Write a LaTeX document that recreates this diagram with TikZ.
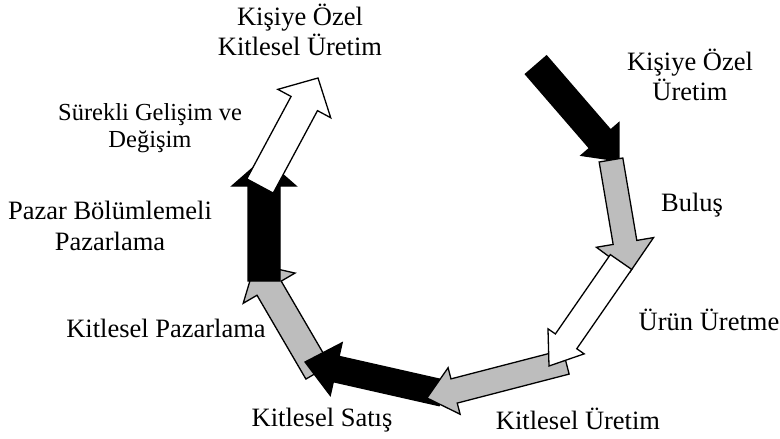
\documentclass[tikz,border=0pt]{standalone}
\usepackage{fontspec}
\setmainfont{Liberation Serif}
\usetikzlibrary{calc}
\definecolor{dotgray}{gray}{0.74}

% block arrow: style, tail, tip, half shaft, half head, head length
\newcommand{\blockarrow}[6]{%
  \coordinate (hb) at ($(#3)!#6pt!(#2)$);
  \filldraw[#1] ($(#2)!#4pt!90:(#3)$) -- ($(hb)!#4pt!90:(#3)$)
    -- ($(hb)!#5pt!90:(#3)$) -- (#3) -- ($(hb)!#5pt!-90:(#3)$)
    -- ($(hb)!#4pt!-90:(#3)$) -- ($(#2)!#4pt!-90:(#3)$) -- cycle;}

\begin{document}
\begin{tikzpicture}[x=1pt,y=-1pt]
  \tikzset{stage/.style={align=center,inner sep=0pt,font=\fontsize{26.5}{30.5}\selectfont}}
  \tikzset{dark/.style={fill=black,draw=black,line width=1.3pt}}
  \tikzset{grey/.style={fill=dotgray,draw=black,line width=1.3pt}}
  \tikzset{plain/.style={fill=white,draw=black,line width=1.3pt}}
  \useasboundingbox (0,0) rectangle (780,439);
  % arrow ends, clockwise from the top right
  \coordinate (t1) at (536,65);  \coordinate (h1) at (619,161);
  \coordinate (t2) at (611,160); \coordinate (h2) at (630,272);
  \coordinate (t3) at (621,262); \coordinate (h3) at (549,366);
  \coordinate (t4) at (566,362); \coordinate (h4) at (427,398);
  \coordinate (t5) at (442,393); \coordinate (h5) at (305,362);
  \coordinate (t6) at (318,372); \coordinate (h6) at (255,264);
  \coordinate (t7) at (264,281); \coordinate (h7) at (264,158);
  \coordinate (t8) at (260,186); \coordinate (h8) at (318,78);
  % drawing order sets which end lies on top
  \blockarrow{dark}{t1}{h1}{14}{25}{29}
  \blockarrow{grey}{t2}{h2}{12}{29}{30}
  \blockarrow{grey}{t6}{h6}{14}{30}{28}
  \blockarrow{dark}{t5}{h5}{13}{27}{32}
  \blockarrow{grey}{t4}{h4}{12.5}{24}{28}
  \blockarrow{plain}{t3}{h3}{13}{22}{30}
  \blockarrow{dark}{t7}{h7}{16}{32}{28}
  \blockarrow{plain}{t8}{h8}{15}{30}{29}
  % stages
  \node[stage] (custom) at (300,30) {Kişiye Özel\\Kitlesel Üretim};
  \node[stage] (origin) at (690,75) {Kişiye Özel\\Üretim};
  \node[stage] (invent) at (692,205) {Buluş};
  \node[stage] (product) at (709,320) {Ürün Üretme};
  \node[stage] (massprod) at (578,419) {Kitlesel Üretim};
  \node[stage] (masssale) at (322,420) {Kitlesel Satış};
  \node[stage] (massmkt) at (166,328) {Kitlesel Pazarlama};
  \node[stage] (segment) at (110,226) {Pazar Bölümlemeli\\Pazarlama};
  \node[stage,font=\fontsize{24.5}{26.5}\selectfont] (change) at (150,128) {Sürekli Gelişim ve\\Değişim};
\end{tikzpicture}
\end{document}
